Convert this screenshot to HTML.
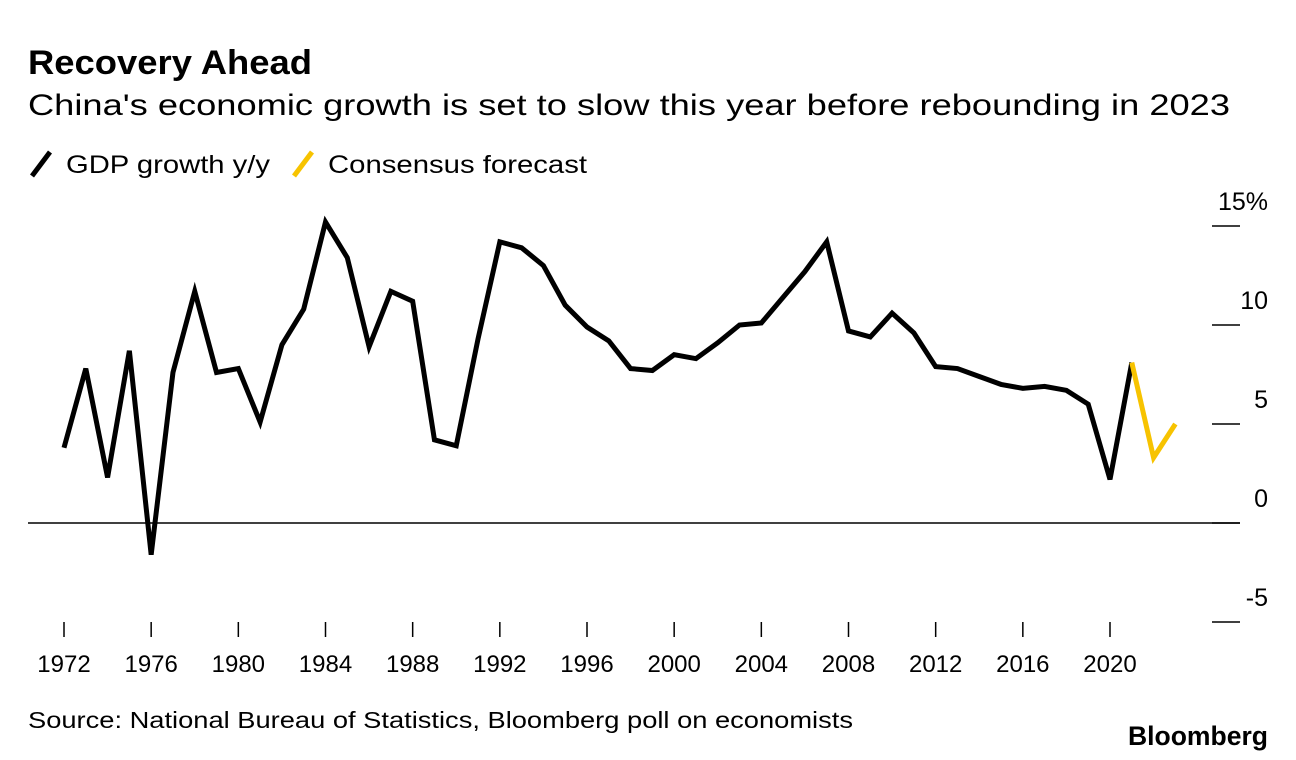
<!DOCTYPE html>
<html><head><meta charset="utf-8"><style>
body{margin:0;background:#fff;font-family:"Liberation Sans",sans-serif;}
svg{display:block}
</style></head><body>
<svg width="1296" height="760">
<text x="28" y="74" font-size="34" font-weight="bold" textLength="284" lengthAdjust="spacingAndGlyphs">Recovery Ahead</text>
<text x="28" y="115" font-size="30" textLength="1202" lengthAdjust="spacingAndGlyphs">China's economic growth is set to slow this year before rebounding in 2023</text>
<g>
<line x1="32" y1="176" x2="50" y2="152" stroke="#000" stroke-width="5"/>
<text x="66" y="173" font-size="25" textLength="204" lengthAdjust="spacingAndGlyphs">GDP growth y/y</text>
<line x1="294" y1="176" x2="312" y2="152" stroke="#f7c300" stroke-width="5"/>
<text x="328" y="173" font-size="25" textLength="259" lengthAdjust="spacingAndGlyphs">Consensus forecast</text>
</g>
<g id="axes"></g>
<g id="series"></g>
<text x="28" y="728" font-size="23" textLength="825" lengthAdjust="spacingAndGlyphs">Source: National Bureau of Statistics, Bloomberg poll on economists</text>
<text x="1128" y="745" font-size="27" font-weight="bold" textLength="140" lengthAdjust="spacingAndGlyphs">Bloomberg</text>
</svg>
<script>
const years=[1972,1973,1974,1975,1976,1977,1978,1979,1980,1981,1982,1983,1984,1985,1986,1987,1988,1989,1990,1991,1992,1993,1994,1995,1996,1997,1998,1999,2000,2001,2002,2003,2004,2005,2006,2007,2008,2009,2010,2011,2012,2013,2014,2015,2016,2017,2018,2019,2020,2021];
const gdp=[3.8,7.8,2.3,8.7,-1.6,7.6,11.7,7.6,7.8,5.1,9.0,10.8,15.2,13.4,8.9,11.7,11.2,4.2,3.9,9.3,14.2,13.9,13.0,11.0,9.9,9.2,7.8,7.7,8.5,8.3,9.1,10.0,10.1,11.4,12.7,14.2,9.7,9.4,10.6,9.6,7.9,7.8,7.4,7.0,6.8,6.9,6.7,6.0,2.2,8.1];
const fYears=[2021,2022,2023];
const forecast=[8.1,3.3,5.0];
const yTicks=[15,10,5,0,-5];
const yTickLabels=["15%","10","5","0","-5"];
const xTicks=[1972,1976,1980,1984,1988,1992,1996,2000,2004,2008,2012,2016,2020];
const NS="http://www.w3.org/2000/svg";
const X=y=>64+(y-1972)*(1110-64)/48;
const Y=v=>523-v*19.8;
const axes=document.getElementById('axes'),series=document.getElementById('series');
function mk(tag,attrs,parent){const e=document.createElementNS(NS,tag);for(const k in attrs)e.setAttribute(k,attrs[k]);parent.appendChild(e);return e;}
yTicks.forEach((v,i)=>{
 const l=mk('line',{x1:1212,x2:1240,y1:Y(v),y2:Y(v),stroke:'#000','stroke-width':1.5},axes);
 
 
 const t=mk('text',{x:1268,y:Y(v)-16,'font-size':25,'text-anchor':'end'},axes);
 t.textContent=yTickLabels[i];
 
 
});
const z=mk('line',{x1:28,x2:1240,y1:Y(0),y2:Y(0),stroke:'#000','stroke-width':1.5},axes);


xTicks.forEach(y=>{
 const l=mk('line',{x1:X(y),x2:X(y),y1:622,y2:637,stroke:'#000','stroke-width':1.5},axes);
 
 
 const t=mk('text',{x:X(y),y:672,'font-size':24,'text-anchor':'middle'},axes);
 t.textContent=y;
 
 
});
const p1=mk('polyline',{points:years.map((y,i)=>X(y)+','+Y(gdp[i])).join(' '),fill:'none',stroke:'#000','stroke-width':5,'stroke-linejoin':'miter'},series);


const p2=mk('polyline',{points:fYears.map((y,i)=>X(y)+','+Y(forecast[i])).join(' '),fill:'none',stroke:'#f7c300','stroke-width':5},series);


</script>
</body></html>
